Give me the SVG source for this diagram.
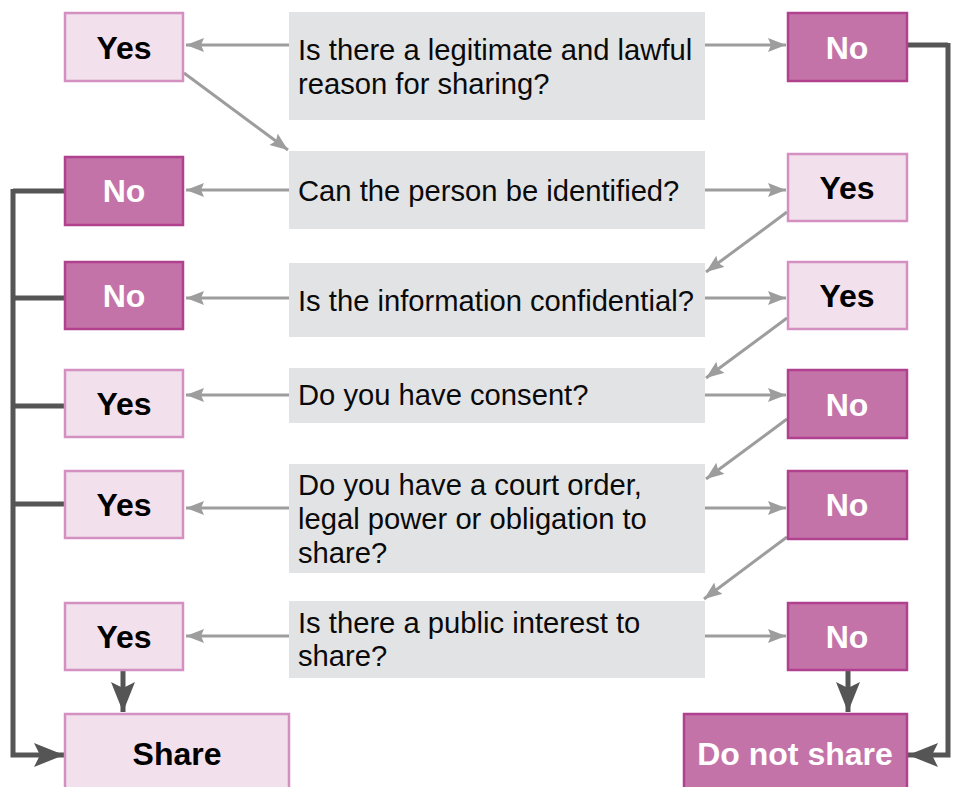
<svg xmlns="http://www.w3.org/2000/svg" width="958" height="787" viewBox="0 0 958 787">
<style>
.q{fill:#e2e3e5}
.yes{fill:#f2e0ec;stroke:#d390c1;stroke-width:2.5}
.no{fill:#c473a9;stroke:#b0418f;stroke-width:2.5}
.qt{font-family:"Liberation Sans",Arial,sans-serif;font-size:29.2px;fill:#0a0a0a}
.lt{font-family:"Liberation Sans",Arial,sans-serif;font-size:32px;font-weight:bold;text-anchor:middle}
.lt.k{fill:#000}
.lt.w{fill:#fff}
.ga{stroke:#9d9d9d;stroke-width:3;fill:none;marker-end:url(#gh)}
.dk{stroke:#555;stroke-width:5;fill:none}
.dka{stroke:#555;stroke-width:5;fill:none;marker-end:url(#dh)}
</style>
<defs>
<marker id="gh" markerUnits="userSpaceOnUse" markerWidth="20" markerHeight="16" refX="18" refY="7" orient="auto" viewBox="0 0 20 16">
<path d="M0,0 L18,7 L0,14 L3,7 z" fill="#9d9d9d"/>
</marker>
<marker id="dh" markerUnits="userSpaceOnUse" markerWidth="32" markerHeight="26" refX="30" refY="12" orient="auto" viewBox="0 0 32 26">
<path d="M0,0 L30,12 L0,24 L6,12 z" fill="#555"/>
</marker>
</defs>

<g id="connectors">
<line class="ga" x1="289" y1="45" x2="186" y2="45"/>
<line class="ga" x1="705" y1="45" x2="786" y2="45"/>
<line class="ga" x1="184" y1="73" x2="288" y2="150"/>
<line class="ga" x1="289" y1="190" x2="186" y2="190"/>
<line class="ga" x1="705" y1="190" x2="786" y2="190"/>
<line class="ga" x1="787" y1="212" x2="706" y2="272"/>
<line class="ga" x1="289" y1="298" x2="186" y2="298"/>
<line class="ga" x1="705" y1="298" x2="786" y2="298"/>
<line class="ga" x1="787" y1="318" x2="706" y2="378"/>
<line class="ga" x1="289" y1="395" x2="186" y2="395"/>
<line class="ga" x1="705" y1="395" x2="786" y2="395"/>
<line class="ga" x1="787" y1="419" x2="706" y2="479"/>
<line class="ga" x1="289" y1="508" x2="186" y2="508"/>
<line class="ga" x1="705" y1="508" x2="786" y2="508"/>
<line class="ga" x1="787" y1="537" x2="704" y2="599"/>
<line class="ga" x1="289" y1="636" x2="186" y2="636"/>
<line class="ga" x1="705" y1="636" x2="786" y2="636"/>
<path class="dk" d="M65,191 H13"/>
<path class="dka" d="M13,189 V755 H64"/>
<path class="dk" d="M13,298 H65"/>
<path class="dk" d="M13,406 H65"/>
<path class="dk" d="M13,504 H65"/>
<path class="dk" d="M907,45 H948"/>
<path class="dka" d="M948,43 V755 H908"/>
<line class="dka" x1="123" y1="671" x2="123" y2="712"/>
<line class="dka" x1="848" y1="671" x2="848" y2="712"/>
</g>

<g id="q1"><rect class="q" x="289" y="12" width="416" height="108"/><text class="qt" x="298" y="60">Is there a legitimate and lawful</text><text class="qt" x="298" y="94">reason for sharing?</text></g>
<g id="q2"><rect class="q" x="289" y="151" width="416" height="78"/><text class="qt" x="298" y="201">Can the person be identified?</text></g>
<g id="q3"><rect class="q" x="289" y="263" width="416" height="74"/><text class="qt" x="298" y="311">Is the information confidential?</text></g>
<g id="q4"><rect class="q" x="289" y="368" width="416" height="55"/><text class="qt" x="298" y="405">Do you have consent?</text></g>
<g id="q5"><rect class="q" x="289" y="464" width="416" height="109"/><text class="qt" x="298" y="495">Do you have a court order,</text><text class="qt" x="298" y="529">legal power or obligation to</text><text class="qt" x="298" y="563">share?</text></g>
<g id="q6"><rect class="q" x="289" y="601" width="416" height="77"/><text class="qt" x="298" y="633">Is there a public interest to</text><text class="qt" x="298" y="666">share?</text></g>

<g id="l1"><rect class="yes" x="65" y="13" width="118" height="68"/><text class="lt k" x="124" y="59">Yes</text></g>
<g id="l2"><rect class="no" x="65" y="157" width="118" height="68"/><text class="lt w" x="124" y="202">No</text></g>
<g id="l3"><rect class="no" x="65" y="262" width="118" height="67"/><text class="lt w" x="124" y="307">No</text></g>
<g id="l4"><rect class="yes" x="65" y="370" width="118" height="67"/><text class="lt k" x="124" y="415">Yes</text></g>
<g id="l5"><rect class="yes" x="65" y="471" width="118" height="67"/><text class="lt k" x="124" y="516">Yes</text></g>
<g id="l6"><rect class="yes" x="65" y="603" width="118" height="67"/><text class="lt k" x="124" y="648">Yes</text></g>
<g id="share"><rect class="yes" x="65" y="714" width="224" height="80"/><text class="lt k" x="177" y="765">Share</text></g>

<g id="r1"><rect class="no" x="788" y="13" width="119" height="68"/><text class="lt w" x="847" y="59">No</text></g>
<g id="r2"><rect class="yes" x="788" y="154" width="119" height="67"/><text class="lt k" x="847" y="199">Yes</text></g>
<g id="r3"><rect class="yes" x="788" y="262" width="119" height="67"/><text class="lt k" x="847" y="307">Yes</text></g>
<g id="r4"><rect class="no" x="788" y="370" width="119" height="68"/><text class="lt w" x="847" y="416">No</text></g>
<g id="r5"><rect class="no" x="788" y="471" width="119" height="68"/><text class="lt w" x="847" y="516">No</text></g>
<g id="r6"><rect class="no" x="788" y="603" width="119" height="67"/><text class="lt w" x="847" y="648">No</text></g>
<g id="dontshare"><rect class="no" x="684" y="714" width="223" height="80"/><text class="lt w" x="795" y="765">Do not share</text></g>
</svg>
